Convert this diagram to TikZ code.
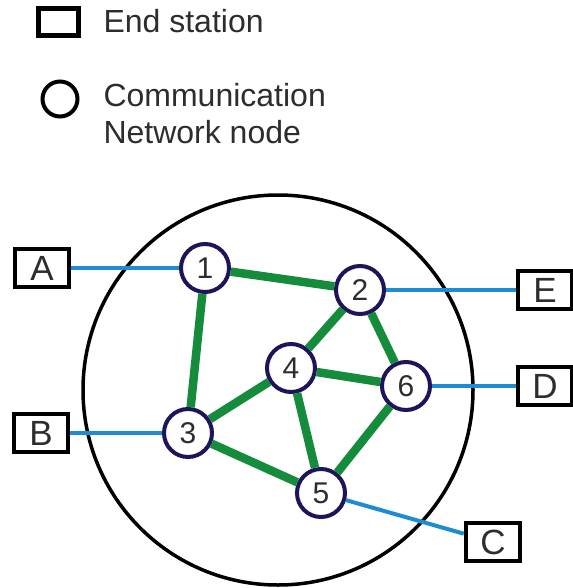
\documentclass[tikz,border=0pt]{standalone}
\usepackage{fontspec}
\setmainfont{Liberation Sans}
\usepackage{tikz}
\usetikzlibrary{arrows}

\definecolor{netnavy}{RGB}{30,20,90}
\definecolor{netgreen}{RGB}{20,140,60}
\definecolor{netblue}{RGB}{30,140,210}
\definecolor{textgray}{RGB}{45,45,45}

\begin{document}
\begin{tikzpicture}%
        [x=1pt, y=-1pt,
        every node/.style={text=textgray, font=\fontsize{32}{37}\selectfont},
        station/.style={rectangle, draw=black, line width=4.5pt, fill=white, inner sep=0pt,
                        minimum width=54pt, minimum height=38pt, font=\fontsize{35}{40}\selectfont},
        netnode/.style={circle, draw=netnavy, line width=4pt, fill=white, inner sep=0pt,
                        minimum size=48pt, font=\fontsize{30}{36}\selectfont},
        trunk/.style={color=netgreen, line width=8.5pt},
        access/.style={color=netblue, line width=4pt}]

    \useasboundingbox (0,0) rectangle (572,588);

    %% Legend
    \node[station, minimum width=40pt, minimum height=27pt] (key station) at (58.5,22) {};
    \node[anchor=base west] (key station text) at (100,33) {End station};
    \node[netnode, draw=black, minimum size=35pt] (key node) at (60,99) {};
    \node[anchor=base west] (key node text 1) at (100,107) {Communication};
    \node[anchor=base west] (key node text 2) at (100,144) {Network node};

    %% The network
    \draw[black, line width=3.5pt] (278,390) circle (195);

    %% Network nodes
    \node[netnode] (1) at (205,268) {1};
    \node[netnode] (2) at (360,290) {2};
    \node[netnode] (3) at (188,433) {3};
    \node[netnode] (4) at (291,368) {4};
    \node[netnode] (5) at (321,493) {5};
    \node[netnode] (6) at (406,386) {6};

    %% End stations
    \node[station] (A) at (42,268) {A};
    \node[station] (B) at (41,433) {B};
    \node[station] (C) at (493,542) {C};
    \node[station] (D) at (545,386) {D};
    \node[station] (E) at (545,290) {E};

    %% Links between the network nodes
    \draw[trunk] (1) -- (2);
    \draw[trunk] (1) -- (3);
    \draw[trunk] (2) -- (4);
    \draw[trunk] (2) -- (6);
    \draw[trunk] (3) -- (4);
    \draw[trunk] (3) -- (5);
    \draw[trunk] (4) -- (6);
    \draw[trunk] (4) -- (5);
    \draw[trunk] (5) -- (6);
    %% Access lines
    \draw[access] (A) -- (1);
    \draw[access] (B) -- (3);
    \draw[access] (2) -- (E);
    \draw[access] (6) -- (D);
    \draw[access] (5) -- (C);
    %%
\end{tikzpicture}
\end{document}
